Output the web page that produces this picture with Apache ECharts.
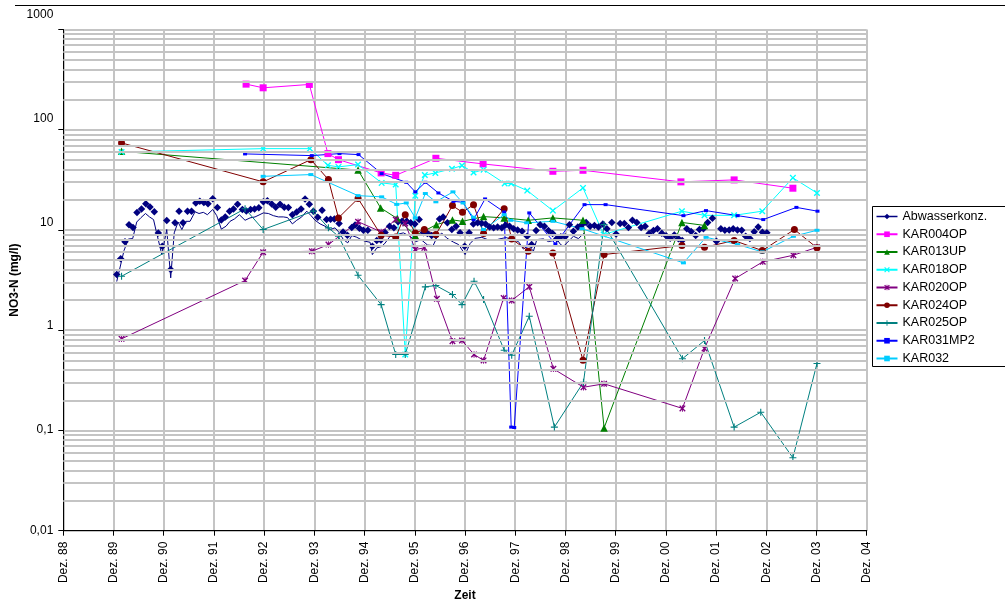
<!DOCTYPE html>
<html><head><meta charset="utf-8">
<script src="https://cdn.jsdelivr.net/npm/echarts@6/dist/echarts.min.js"></script>
<style>html,body{margin:0;padding:0;background:#fff}#c{width:1005px;height:603px}</style>
</head><body><div id="c"></div>
<script>
// x = years after "Dez. 88"
const xTickLabels = ['Dez. 88','Dez. 89','Dez. 90','Dez. 91','Dez. 92','Dez. 93','Dez. 94','Dez. 95','Dez. 96','Dez. 97','Dez. 98','Dez. 99','Dez. 00','Dez. 01','Dez. 02','Dez. 03','Dez. 04'];
const yTickLabels = ['0,01','0,1','1','10','100','1000'];
const minorMultipliers = [2,3,4,5,6,7,8,9];
const decades = [0.01,0.1,1,10,100];

const abwasser = [[1.064,3.59],[1.143,5.15],[1.229,7.61],[1.309,11.3],[1.388,10.6],[1.468,14.9],[1.558,16.2],[1.643,18.3],[1.727,17.0],[1.813,15.2],[1.892,9.31],[1.972,6.88],[2.060,12.4],[2.139,4.03],[2.225,11.8],[2.305,15.4],[2.384,11.8],[2.474,15.4],[2.554,15.4],[2.639,18.6],[2.719,19.3],[2.799,18.8],[2.882,18.3],[2.976,20.5],[3.068,16.8],[3.147,12.6],[3.225,13.5],[3.311,15.4],[3.390,16.2],[3.470,18.1],[3.566,16.0],[3.645,15.5],[3.729,16.0],[3.809,16.2],[3.894,16.7],[3.984,19.1],[4.064,19.6],[4.151,18.2],[4.231,16.9],[4.317,18.1],[4.400,16.9],[4.482,16.8],[4.562,14.2],[4.649,15.1],[4.735,16.2],[4.815,20.4],[4.900,18.1],[4.980,15.4],[5.068,13.4],[5.153,15.7],[5.243,12.7],[5.323,12.8],[5.398,12.9],[5.492,11.6],[5.572,9.57],[5.657,8.84],[5.745,10.6],[5.811,11.2],[5.896,10.4],[5.976,9.93],[6.064,9.93],[6.155,6.88],[6.243,7.84],[6.325,7.93],[6.408,9.42],[6.498,10.9],[6.584,10.5],[6.667,12.1],[6.747,12.2],[6.837,12.2],[6.920,11.8],[7.002,11.5],[7.086,12.7],[7.171,9.36],[7.251,9.21],[7.335,8.80],[7.418,8.80],[7.494,12.9],[7.564,13.5],[7.649,11.8],[7.737,10.1],[7.823,10.9],[7.902,9.36],[7.992,6.88],[8.082,9.36],[8.167,11.5],[8.251,11.8],[8.331,11.7],[8.410,11.5],[8.490,10.7],[8.570,10.5],[8.649,10.7],[8.733,10.5],[8.809,11.2],[8.888,10.9],[8.968,10.3],[9.048,9.98],[9.137,9.70],[9.237,8.65],[9.327,7.15],[9.416,9.86],[9.496,11.3],[9.582,10.9],[9.661,9.86],[9.745,9.21],[9.829,8.21],[9.908,8.54],[9.994,8.54],[10.080,11.3],[10.159,9.70],[10.247,10.7],[10.327,11.3],[10.412,11.9],[10.492,10.9],[10.578,11.1],[10.657,10.7],[10.745,11.5],[10.825,10.3],[10.924,11.9],[11.010,9.10],[11.090,11.6],[11.173,11.6],[11.255,10.6],[11.335,12.5],[11.422,11.9],[11.508,10.6],[11.588,10.9],[11.667,9.21],[11.753,9.86],[11.833,10.3],[11.920,9.27],[12.006,8.74],[12.086,8.25],[12.169,8.92],[12.251,8.17],[12.325,7.84],[12.418,10.3],[12.504,9.64],[12.594,8.80],[12.669,10.1],[12.749,10.3],[12.833,11.9],[12.928,13.1],[13.008,7.72],[13.096,10.3],[13.175,9.91],[13.261,9.98],[13.341,10.3],[13.426,9.98],[13.510,9.91],[13.590,8.65],[13.673,8.21],[13.759,9.60],[13.839,10.7],[13.924,9.49],[14.012,9.36]];

const abwasserLine = [[1.064,3.06],[1.209,6.23],[1.295,8.12],[1.382,8.21],[1.462,12.0],[1.548,13.3],[1.637,14.6],[1.717,13.5],[1.797,12.7],[1.857,9.42],[1.962,5.68],[2.060,10.1],[2.139,3.33],[2.209,9.36],[2.285,12.0],[2.361,10.1],[2.440,12.2],[2.524,12.2],[2.624,15.2],[2.703,14.6],[2.789,15.0],[2.869,14.2],[2.976,16.0],[3.056,13.9],[3.147,10.2],[3.241,10.9],[3.321,12.2],[3.410,12.9],[3.506,14.2],[3.620,12.5],[3.719,13.2],[3.819,13.5],[3.898,14.1],[3.984,14.8],[4.084,14.6],[4.183,13.9],[4.283,13.5],[4.382,13.5],[4.466,13.3],[4.562,11.5],[4.649,12.5],[4.749,13.5],[4.849,15.4],[4.934,13.9],[5.014,12.5],[5.114,11.5],[5.213,10.9],[5.313,10.1],[5.412,10.5],[5.498,9.36],[5.578,8.02],[5.665,7.44],[5.745,8.80],[5.845,8.46],[5.930,8.02],[6.010,7.72],[6.110,7.54],[6.155,5.68],[6.243,6.63],[6.339,6.83],[6.408,7.40],[6.508,8.65],[6.641,9.00],[6.773,9.36],[6.906,8.65],[7.026,7.66],[7.125,8.02],[7.255,7.07],[7.365,6.99],[7.444,8.50],[7.538,9.31],[7.637,8.30],[7.769,7.57],[7.873,7.15],[8.002,5.68],[8.102,7.32],[8.201,8.25],[8.335,8.44],[8.466,7.97],[8.580,7.88],[8.719,8.21],[8.819,8.40],[8.932,8.02],[9.064,7.66],[9.163,6.45],[9.263,6.99],[9.363,6.16],[9.430,8.02],[9.562,8.15],[9.661,7.66],[9.761,7.84],[9.835,8.02],[9.904,7.15],[9.964,6.88],[10.060,7.72],[10.159,8.65],[10.259,8.21],[10.378,9.36]];

const kar004op = [[3.64,285],[3.98,262],[4.90,283],[5.27,57.8],[5.48,50.3],[6.33,37.1],[6.62,35.1],[7.42,51.9],[8.36,45.6],[9.75,38.5],[10.35,39.4],[12.30,30.2],[13.36,31.6],[14.53,26.1]];
const kar013up = [[1.16,60.9],[5.87,39.6],[6.32,16.6],[6.65,13.0],[7.01,8.8],[7.43,11.3],[7.75,12.6],[7.95,12.2],[8.37,13.6],[8.78,13.2],[9.26,12.5],[9.75,13.2],[10.35,12.5],[10.77,0.106],[12.32,11.9],[12.77,11.1]];
const kar018op = [[1.16,60],[3.98,64.8],[4.91,64.8],[5.27,44.2],[5.48,42.6],[5.87,44.9],[6.34,29.5],[6.62,28.4],[6.81,0.573],[7.01,22.0],[7.20,35.3],[7.41,37.1],[7.74,40.8],[7.94,43.9],[8.17,37.4],[8.37,40.0],[8.79,29.1],[8.92,29.1],[9.24,24.7],[9.75,15.6],[10.35,26.3],[10.76,9.0],[12.32,15.4],[12.77,14.0],[13.36,14.0],[13.92,15.4],[14.53,33.1],[15.01,23.4]];
const kar020op = [[1.16,0.82],[3.62,3.13],[3.98,6.0],[4.95,6.13],[5.28,7.15],[5.87,12.1],[6.33,9.57],[6.62,12.7],[6.81,11.6],[7.01,6.38],[7.19,6.63],[7.44,2.06],[7.75,0.777],[7.94,0.79],[8.18,0.573],[8.37,0.50],[8.77,2.10],[8.93,1.98],[9.28,2.71],[9.76,0.412],[10.36,0.27],[10.77,0.292],[12.33,0.166],[12.77,0.657],[13.38,3.28],[13.93,4.81],[14.54,5.60],[15.01,6.72]];
const kar024op = [[1.16,73.9],[3.98,30.2],[4.93,50.3],[5.28,31.8],[5.48,13.2],[5.87,20.6],[6.33,8.85],[6.62,8.53],[6.81,14.2],[7.01,9.35],[7.19,10.1],[7.42,9.0],[7.75,17.5],[7.95,15.0],[8.17,17.9],[8.37,9.2],[8.78,16.3],[8.93,8.15],[9.26,6.13],[9.75,5.91],[10.35,0.502],[10.77,5.69],[12.32,6.99],[12.77,6.72],[13.36,7.84],[13.92,6.23],[14.56,10.1],[15.01,6.63]];
const kar025op = [[1.16,3.45],[3.62,16.3],[3.98,10.1],[4.98,15.4],[5.28,10.5],[5.48,8.65],[5.87,3.53],[6.33,1.80],[6.62,0.573],[6.81,0.573],[7.21,2.71],[7.42,2.79],[7.75,2.27],[7.94,1.80],[8.18,3.08],[8.37,2.02],[8.78,0.632],[8.93,0.563],[9.28,1.38],[9.78,0.108],[10.36,0.303],[10.77,11.3],[12.33,0.519],[12.77,0.789],[13.36,0.108],[13.89,0.152],[14.53,0.0534],[15.01,0.466]];
const kar031mp2 = [[3.62,57.4],[4.95,55.2],[5.50,57.8],[5.88,56.5],[6.34,36.5],[6.83,29.9],[7.01,24.0],[7.21,29.9],[7.47,23.4],[7.77,19.3],[7.96,18.9],[8.17,12.7],[8.40,20.4],[8.78,15.1],[8.92,0.108],[8.98,0.107],[9.28,14.8],[9.80,7.27],[10.38,17.9],[10.80,17.9],[12.35,13.9],[12.80,15.6],[13.43,13.9],[13.94,12.7],[14.60,16.8],[15.02,15.4]];
const kar032 = [[3.98,34.3],[4.93,35.7],[5.87,22.0],[6.34,21.4],[6.64,18.0],[6.83,18.6],[7.01,13.2],[7.21,23.1],[7.42,19.1],[7.76,24.0],[7.96,18.6],[8.17,13.4],[8.37,10.1],[8.78,14.2],[8.91,12.5],[9.23,11.8],[9.75,12.2],[10.33,10.3],[12.35,4.70],[12.80,8.46],[13.43,7.15],[13.92,6.05],[14.54,8.65],[15.01,9.93]];

const FONT = '"Liberation Sans", Arial, sans-serif';
const GRID = '#c4c4c4';
const SYM_X = 'path://M0,1.5L1.5,0L5,3.5L8.5,0L10,1.5L6.5,5L10,8.5L8.5,10L5,6.5L1.5,10L0,8.5L3.5,5Z';
const SYM_STAR = 'path://M0,1.5L1.5,0L5,3.5L8.5,0L10,1.5L6.5,5L10,8.5L8.5,10L5,6.5L1.5,10L0,8.5L3.5,5Z M4.3,0H5.7V10H4.3Z';
const SYM_PLUS = 'path://M4.2,0H5.8V4.2H10V5.8H5.8V10H4.2V5.8H0V4.2H4.2Z';

const minorGrid = [];
decades.forEach(d => minorMultipliers.forEach(m => minorGrid.push({yAxis: +(d * m).toPrecision(3)})));

function mk(name, data, color, symbol, size, extra) {
  return Object.assign({
    name, type: 'line', data, symbol, symbolSize: size, showAllSymbol: true,
    lineStyle: {color, width: 1}, itemStyle: {color},
    emphasis: {disabled: true}, z: 3
  }, extra || {});
}

const yShift = {'1000': 'u15', '100': 'u11', '10': 'u7', '1': 'u5', '0,1': 'u1'};
const lblStyle = (pb) => ({fontSize: 12, color: '#000', fontFamily: FONT, padding: [0, 0, pb, 0]});

const option = {
  animation: false,
  backgroundColor: '#fff',
  textStyle: {fontFamily: FONT},
  grid: {left: 63.3, right: 138.3, top: 29.5, bottom: 72.3, containLabel: false, outerBoundsMode: 'none'},
  xAxis: {
    type: 'value', min: 0, max: 16, interval: 1,
    name: 'Zeit', nameLocation: 'middle', nameGap: 59, nameMoveOverlap: false,
    nameTextStyle: {fontWeight: 'bold', fontSize: 12, color: '#000', fontFamily: FONT},
    axisLine: {onZero: false, lineStyle: {color: '#000', width: 1}},
    axisTick: {show: true, length: 5, lineStyle: {color: '#000'}},
    axisLabel: {rotate: 90, margin: 11, fontSize: 12, color: '#000', fontFamily: FONT,
      formatter: v => xTickLabels[Math.round(v)] || ''},
    splitLine: {show: true, lineStyle: {color: GRID, width: 2}}
  },
  yAxis: {
    type: 'log', logBase: 10, min: 0.01, max: 1000,
    name: 'NO3-N (mg/l)', nameLocation: 'middle', nameGap: 43, nameMoveOverlap: false,
    nameTextStyle: {fontWeight: 'bold', fontSize: 12, color: '#000', fontFamily: FONT},
    axisLine: {show: true, onZero: false, lineStyle: {color: '#000', width: 1}},
    axisTick: {show: true, length: 5, lineStyle: {color: '#000'}},
    axisLabel: {margin: 10, fontSize: 12, color: '#000', fontFamily: FONT,
      formatter: v => { const s = yTickLabels[Math.round(Math.log10(v)) + 2]; const k = yShift[s]; return k ? '{' + k + '|' + s + '}' : s; },
      rich: {u15: lblStyle(30), u11: lblStyle(22), u7: lblStyle(14), u5: lblStyle(10), u1: lblStyle(2)}},
    splitLine: {show: true, lineStyle: {color: GRID, width: 2}}
  },
  legend: {
    orient: 'vertical', left: 872.5, top: 206.5,
    itemWidth: 21, itemHeight: 7, itemGap: 3.75,
    padding: [3, 20, 1, 3], borderColor: '#000', borderWidth: 1, backgroundColor: '#fff',
    selectedMode: false,
    textStyle: {fontSize: 12.5, color: '#000', fontFamily: FONT, lineHeight: 14},
    data: [
      {name: 'Abwasserkonz.', lineStyle: {width: 1.5, color: '#000080', opacity: 1}},
      'KAR004OP','KAR013UP','KAR018OP','KAR020OP','KAR024OP','KAR025OP','KAR031MP2','KAR032'
    ]
  },
  graphic: [{type: 'line', shape: {x1: 15, y1: 5.5, x2: 1005, y2: 5.5}, style: {stroke: '#000', lineWidth: 1}, silent: true}],
  series: [
    {name: 'minor', type: 'line', data: [], z: 1, silent: true,
      markLine: {silent: true, symbol: ['none', 'none'], label: {show: false}, animation: false,
        lineStyle: {color: GRID, width: 2, type: 'solid'}, emphasis: {disabled: true}, data: minorGrid}},
    mk('Abwasserkonz.', abwasser, '#000080', 'diamond', 7.5, {lineStyle: {width: 0, color: '#000080'}}),
    mk('Abwasserkonz. Linie', abwasserLine, '#000080', 'none', 0),
    mk('KAR004OP', kar004op, '#FF00FF', 'rect', 7),
    mk('KAR013UP', kar013up, '#008000', 'triangle', 7.5),
    mk('KAR018OP', kar018op, '#00FFFF', SYM_X, 6.5),
    mk('KAR020OP', kar020op, '#800080', SYM_STAR, 6.5),
    mk('KAR024OP', kar024op, '#800000', 'circle', 7),
    mk('KAR025OP', kar025op, '#008080', SYM_PLUS, 7),
    mk('KAR031MP2', kar031mp2, '#0000FF', 'rect', [4, 3]),
    mk('KAR032', kar032, '#00CCFF', 'rect', [5, 3])
  ]
};
const chart = echarts.init(document.getElementById('c'), null, {renderer: 'canvas'});
chart.setOption(option);
</script>
</body></html>
